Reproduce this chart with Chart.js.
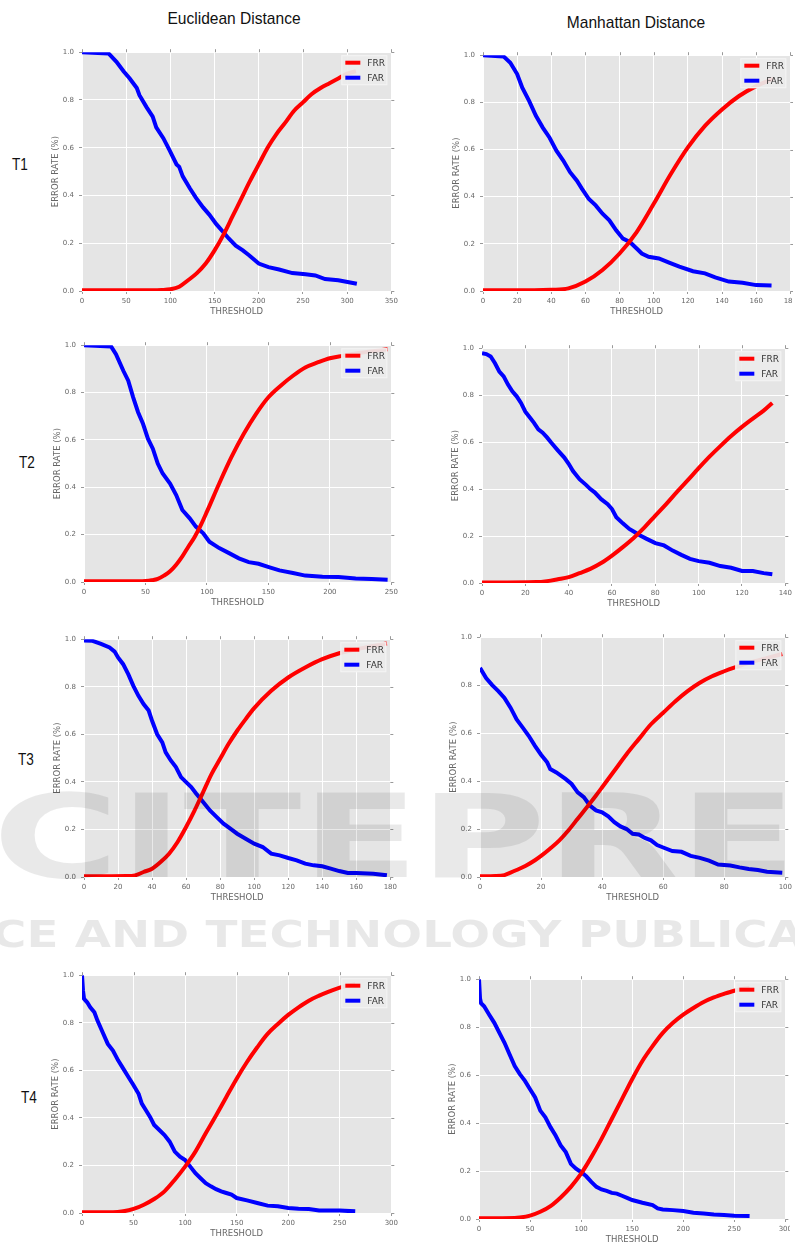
<!DOCTYPE html>
<html><head><meta charset="utf-8">
<script src="https://cdn.jsdelivr.net/npm/chart.js@4.4.1/dist/chart.umd.min.js"></script>
<style>
html,body{margin:0;padding:0;background:#fff;width:795px;height:1249px;overflow:hidden;position:relative;font-family:"Liberation Sans",Arial,sans-serif;}
.box{position:absolute;overflow:hidden;}
.box canvas{display:block;}
.lbl{position:absolute;color:#111;white-space:nowrap;line-height:1;}
.wm{position:absolute;white-space:nowrap;line-height:1;font-family:"DejaVu Sans";font-weight:bold;transform-origin:0 0;pointer-events:none;z-index:5;}
</style></head><body>
<div class="lbl" style="left:234px;top:18px;font-size:17px;transform:translate(-50%,-50%) scaleX(0.915);">Euclidean Distance</div>
<div class="lbl" style="left:636px;top:22px;font-size:17px;transform:translate(-50%,-50%) scaleX(0.915);">Manhattan Distance</div>
<div class="lbl" style="left:20px;top:164px;font-size:17px;transform:translate(-50%,-50%) scaleX(0.8);">T1</div>
<div class="lbl" style="left:27px;top:462px;font-size:17px;transform:translate(-50%,-50%) scaleX(0.8);">T2</div>
<div class="lbl" style="left:26px;top:759px;font-size:17px;transform:translate(-50%,-50%) scaleX(0.8);">T3</div>
<div class="lbl" style="left:29px;top:1097px;font-size:17px;transform:translate(-50%,-50%) scaleX(0.8);">T4</div>
<div id="wmBig" class="wm" style="left:-132px;top:779px;font-size:116px;color:rgba(0,0,0,0.085);">SCITEPRESS</div>
<div id="wmLine" class="wm" style="left:-8px;top:916px;font-size:37px;color:rgba(0,0,0,0.09);">CE AND TECHNOLOGY PUBLICA</div>
<script>
// ---- T1 Euclidean ----
const t1EucFarX = [0, 30, 39, 47, 54, 62, 65, 73, 80, 84, 92, 99, 107, 110, 114, 122, 129, 137, 144, 152, 159, 166, 174, 182, 189, 200, 211, 223, 238, 253, 264, 275, 290, 311];
const t1EucFar  = [1.0, 0.995, 0.96, 0.92, 0.89, 0.85, 0.82, 0.77, 0.73, 0.685, 0.64, 0.59, 0.53, 0.52, 0.48, 0.43, 0.39, 0.35, 0.32, 0.28, 0.25, 0.22, 0.19, 0.17, 0.15, 0.115, 0.10, 0.09, 0.075, 0.07, 0.065, 0.05, 0.045, 0.03];
const t1EucFrrX = [0, 80, 90, 100, 110, 120, 130, 140, 150, 160, 170, 180, 190, 200, 210, 220, 230, 240, 250, 260, 270, 280, 290, 300, 310];
const t1EucFrr  = [0.003, 0.003, 0.004, 0.007, 0.018, 0.045, 0.075, 0.115, 0.17, 0.235, 0.31, 0.385, 0.46, 0.53, 0.60, 0.657, 0.705, 0.755, 0.79, 0.825, 0.85, 0.87, 0.89, 0.91, 0.92];
// ---- T1 Manhattan ----
const t1ManFarX = [0, 12, 16, 20, 23, 27, 31, 35, 39, 43, 47, 51, 55, 58, 62, 66, 70, 74, 78, 82, 86, 90, 93, 97, 103, 109, 115, 123, 130, 136, 144, 152, 160, 169];
const t1ManFar  = [1.0, 0.995, 0.968, 0.92, 0.862, 0.806, 0.743, 0.693, 0.65, 0.595, 0.553, 0.504, 0.468, 0.433, 0.39, 0.363, 0.328, 0.30, 0.257, 0.222, 0.208, 0.18, 0.159, 0.145, 0.138, 0.12, 0.103, 0.084, 0.075, 0.058, 0.04, 0.035, 0.025, 0.023];
const t1ManFrrX = [0, 30, 40, 50, 60, 70, 80, 90, 100, 110, 120, 130, 140, 150, 160, 170];
const t1ManFrr  = [0.003, 0.003, 0.005, 0.011, 0.04, 0.089, 0.159, 0.25, 0.37, 0.496, 0.609, 0.70, 0.77, 0.827, 0.869, 0.90];
// ---- T2 Euclidean ----
const t2EucFarX = [0, 22, 26, 32, 36, 40, 44, 48, 52, 56, 60, 64, 70, 75, 80, 86, 91, 97, 102, 110, 118, 126, 134, 142, 151, 159, 170, 180, 194, 207, 221, 234, 247];
const t2EucFar  = [1.0, 0.995, 0.962, 0.892, 0.85, 0.78, 0.717, 0.668, 0.605, 0.563, 0.50, 0.458, 0.416, 0.367, 0.304, 0.269, 0.234, 0.206, 0.17, 0.143, 0.122, 0.10, 0.084, 0.077, 0.062, 0.049, 0.038, 0.027, 0.022, 0.021, 0.015, 0.013, 0.01];
const t2EucFrrX = [0, 45, 50, 55, 60, 65, 70, 75, 80, 85, 90, 95, 100, 110, 120, 130, 140, 150, 160, 170, 180, 190, 200, 210, 225, 247];
const t2EucFrr  = [0.003, 0.003, 0.004, 0.007, 0.013, 0.027, 0.045, 0.073, 0.108, 0.15, 0.19, 0.24, 0.297, 0.416, 0.528, 0.626, 0.71, 0.78, 0.829, 0.871, 0.906, 0.927, 0.945, 0.955, 0.968, 0.983];
// ---- T2 Manhattan ----
const t2ManFarX = [0,2,4,6,8,10,12,14,16,18,20,22,24,26,28,30,32,35,38,40,42,45,48,50,52,55,58,60,62,65,68,70,73,76,80,84,88,92,96,100,105,110,115,120,125,130,134];
const t2ManFar  = [0.979,0.975,0.965,0.936,0.90,0.88,0.845,0.816,0.795,0.767,0.73,0.706,0.682,0.654,0.64,0.62,0.597,0.565,0.534,0.508,0.477,0.442,0.418,0.40,0.386,0.357,0.336,0.315,0.28,0.254,0.23,0.219,0.202,0.188,0.17,0.16,0.138,0.12,0.103,0.093,0.086,0.072,0.065,0.051,0.051,0.042,0.037];
const t2ManFrrX = [0,25,30,35,40,45,50,55,60,65,70,75,80,85,90,95,100,105,110,115,120,125,130,134];
const t2ManFrr  = [0.002,0.004,0.008,0.016,0.025,0.042,0.06,0.085,0.117,0.153,0.192,0.237,0.287,0.336,0.388,0.438,0.489,0.538,0.583,0.626,0.665,0.70,0.734,0.767];
// ---- T3 Euclidean ----
const t3EucFarX = [0,5,10,15,18,20,23,26,29,32,35,38,40,43,46,48,51,54,57,60,63,66,70,74,78,82,86,90,95,100,105,110,115,120,125,130,135,140,145,150,155,160,170,178];
const t3EucFar  = [0.995,0.993,0.98,0.965,0.948,0.923,0.895,0.853,0.804,0.762,0.727,0.70,0.657,0.60,0.566,0.524,0.49,0.462,0.42,0.399,0.378,0.35,0.315,0.28,0.252,0.224,0.203,0.182,0.161,0.14,0.126,0.098,0.091,0.08,0.07,0.056,0.049,0.045,0.035,0.025,0.017,0.017,0.014,0.007];
const t3EucFrrX = [0,25,30,35,40,45,50,55,60,65,70,75,80,85,90,95,100,110,120,130,140,150,160,170,178];
const t3EucFrr  = [0.003,0.004,0.007,0.021,0.035,0.063,0.098,0.147,0.21,0.28,0.357,0.434,0.497,0.56,0.615,0.664,0.71,0.783,0.839,0.881,0.916,0.941,0.958,0.972,0.982];
// ---- T3 Manhattan ----
const t3ManFarX = [0,2,4,6,8,10,12,14,16,18,20,22,23,25,28,30,32,34,36,38,40,42,44,46,48,50,52,54,56,58,60,63,66,69,72,75,78,82,85,88,91,94,99];
const t3ManFar  = [0.872,0.83,0.80,0.775,0.747,0.706,0.657,0.623,0.588,0.547,0.51,0.478,0.45,0.436,0.409,0.388,0.353,0.333,0.298,0.278,0.27,0.253,0.229,0.211,0.20,0.18,0.177,0.163,0.153,0.133,0.123,0.108,0.105,0.088,0.08,0.068,0.052,0.048,0.04,0.033,0.029,0.022,0.018];
const t3ManFrrX = [0,5,8,10,12,15,18,20,23,26,29,32,35,38,40,44,48,52,56,60,64,68,72,76,80,83,90,99];
const t3ManFrr  = [0.003,0.004,0.008,0.018,0.029,0.047,0.07,0.088,0.119,0.153,0.195,0.243,0.291,0.34,0.374,0.443,0.512,0.575,0.637,0.685,0.733,0.775,0.81,0.837,0.858,0.872,0.90,0.93];
// ---- T4 Euclidean ----
const t4EucFarX = [0,1,2,5,8,12,15,20,25,30,35,40,45,50,55,58,62,66,70,75,80,85,90,95,100,105,110,115,120,125,130,135,140,145,150,160,170,180,190,200,210,220,230,240,250,265];
const t4EucFar  = [1.0,0.934,0.90,0.886,0.865,0.844,0.809,0.76,0.711,0.683,0.642,0.607,0.572,0.537,0.50,0.46,0.432,0.404,0.37,0.349,0.328,0.30,0.258,0.237,0.223,0.195,0.167,0.146,0.125,0.112,0.10,0.091,0.084,0.077,0.063,0.053,0.042,0.031,0.028,0.021,0.018,0.017,0.011,0.01,0.01,0.007];
const t4EucFrrX = [0,30,40,50,60,70,80,90,100,110,120,130,140,150,160,170,180,190,200,210,220,230,240,250,265];
const t4EucFrr  = [0.003,0.003,0.007,0.017,0.035,0.059,0.091,0.14,0.195,0.258,0.335,0.41,0.488,0.565,0.635,0.697,0.753,0.795,0.833,0.865,0.893,0.914,0.932,0.948,0.962];
// ---- T4 Manhattan ----
const t4ManFarX = [0,1,2,5,10,15,20,25,30,35,40,45,50,55,60,65,70,75,80,85,90,95,100,105,110,115,120,125,130,135,140,145,150,160,170,175,180,190,200,210,220,230,240,250,265];
const t4ManFar  = [1.0,0.92,0.90,0.887,0.852,0.818,0.776,0.735,0.686,0.638,0.604,0.576,0.541,0.507,0.452,0.424,0.383,0.348,0.307,0.279,0.23,0.21,0.196,0.178,0.155,0.134,0.123,0.117,0.109,0.106,0.097,0.088,0.079,0.068,0.058,0.044,0.04,0.037,0.033,0.026,0.023,0.019,0.017,0.014,0.012];
const t4ManFrrX = [0,35,40,50,60,70,80,90,100,110,120,130,140,150,160,170,180,190,200,210,220,230,240,250,265];
const t4ManFrr  = [0.003,0.004,0.006,0.014,0.03,0.054,0.09,0.134,0.189,0.258,0.334,0.417,0.50,0.583,0.659,0.721,0.776,0.818,0.852,0.88,0.905,0.924,0.939,0.952,0.965];

// axis settings per panel (x-axis maximum and tick step)
const xMaxes  = [350, 180, 250, 140, 180, 100, 300, 300];
const xSteps  = [50, 20, 50, 20, 20, 20, 50, 50];
const legendLabels = ['FRR', 'FAR'];
const xTitle = 'THRESHOLD';
const yTitle = 'ERROR RATE (%)';

// layout (positions only)
const rects = [
  {l:82, t:51, r:393, b:291, clip:795},
  {l:483, t:54, r:792, b:291, clip:793},
  {l:84, t:344, r:393, b:582, clip:795},
  {l:482, t:347, r:787, b:583, clip:795},
  {l:84, t:638, r:392, b:877, clip:795},
  {l:480, t:636, r:787, b:877, clip:794},
  {l:82, t:974, r:393, b:1213, clip:795},
  {l:479, t:978, r:787, b:1219, clip:790}
];
const panels = [
  [t1EucFrrX, t1EucFrr, t1EucFarX, t1EucFar],
  [t1ManFrrX, t1ManFrr, t1ManFarX, t1ManFar],
  [t2EucFrrX, t2EucFrr, t2EucFarX, t2EucFar],
  [t2ManFrrX, t2ManFrr, t2ManFarX, t2ManFar],
  [t3EucFrrX, t3EucFrr, t3EucFarX, t3EucFar],
  [t3ManFrrX, t3ManFrr, t3ManFarX, t3ManFar],
  [t4EucFrrX, t4EucFrr, t4EucFarX, t4EucFar],
  [t4ManFrrX, t4ManFrr, t4ManFarX, t4ManFar]
];

// stretch watermark texts horizontally to their spans
(function () {
  const big = document.getElementById('wmBig');
  const wb = big.getBoundingClientRect().width;
  big.style.transform = 'scaleX(' + (1170 / wb) + ')';
  const line = document.getElementById('wmLine');
  const wl = line.getBoundingClientRect().width;
  line.style.transform = 'scaleX(' + (812 / wl) + ')';
})();

const pts = (xs, ys) => xs.map((x, i) => ({x: x, y: ys[i]}));

const frame = {
  id: 'frame',
  beforeDraw(chart) {
    const a = chart.chartArea, ctx = chart.ctx;
    ctx.save();
    ctx.fillStyle = '#E5E5E5';
    ctx.fillRect(a.left, a.top, a.right - a.left, a.bottom - a.top);
    ctx.restore();
  },
  afterDatasetsDraw(chart) {
    const a = chart.chartArea, ctx = chart.ctx;
    ctx.save();
    const bw = 46, bh = 30;
    const bx = a.right - 4 - bw, by = a.top + 3;
    ctx.fillStyle = 'rgba(236,236,236,0.92)';
    ctx.fillRect(bx, by, bw, bh);
    ctx.strokeStyle = '#f4f4f4';
    ctx.lineWidth = 1;
    ctx.strokeRect(bx + 0.5, by + 0.5, bw - 1, bh - 1);
    chart.data.datasets.forEach((ds, i) => {
      const y = by + 7.5 + i * 15;
      ctx.strokeStyle = ds.borderColor;
      ctx.lineWidth = 4;
      ctx.beginPath(); ctx.moveTo(bx + 4, y); ctx.lineTo(bx + 19, y); ctx.stroke();
      ctx.fillStyle = '#333';
      ctx.font = '9px "DejaVu Sans"';
      ctx.textBaseline = 'middle';
      ctx.fillText(ds.label, bx + 26, y + 0.5);
    });
    ctx.restore();
  },
  afterDraw(chart) {
    const a = chart.chartArea, ctx = chart.ctx;
    const xs = chart.scales.x, ys = chart.scales.y;
    ctx.save();
    ctx.strokeStyle = '#999';
    ctx.lineWidth = 1;
    xs.ticks.forEach(t => {
      const px = Math.round(xs.getPixelForValue(t.value)) + 0.5;
      ctx.beginPath(); ctx.moveTo(px, a.top); ctx.lineTo(px, a.top - 3); ctx.stroke();
    });
    ys.ticks.forEach(t => {
      const py = Math.round(ys.getPixelForValue(t.value)) + 0.5;
      ctx.beginPath(); ctx.moveTo(a.right, py); ctx.lineTo(a.right + 3, py); ctx.stroke();
    });
    ctx.restore();
  }
};

const L = 34, T = 8, R = 8, B = 28;
panels.forEach((p, i) => {
  const rc = rects[i];
  const w = rc.r - rc.l + L + R;
  const h = rc.b - rc.t + T + B;
  const left = rc.l - L;
  const div = document.createElement('div');
  div.className = 'box';
  div.style.left = left + 'px';
  div.style.top = (rc.t - T) + 'px';
  div.style.width = Math.min(w, rc.clip - left) + 'px';
  div.style.height = h + 'px';
  const c = document.createElement('canvas');
  c.width = w; c.height = h;
  c.style.width = w + 'px'; c.style.height = h + 'px';
  div.appendChild(c);
  document.body.appendChild(div);
  new Chart(c, {
    type: 'line',
    data: {
      datasets: [
        {label: legendLabels[0], data: pts(p[0], p[1]), borderColor: '#ff0000', borderWidth: 4,
         pointRadius: 0, fill: false, cubicInterpolationMode: 'monotone', borderCapStyle: 'butt'},
        {label: legendLabels[1], data: pts(p[2], p[3]), borderColor: '#0000ff', borderWidth: 4,
         pointRadius: 0, fill: false, tension: 0, borderCapStyle: 'butt'}
      ]
    },
    options: {
      responsive: false,
      animation: false,
      devicePixelRatio: 1,
      layout: {padding: {top: T, right: R, left: 0, bottom: 0}},
      plugins: {legend: {display: false}, tooltip: {enabled: false}},
      scales: {
        x: {
          type: 'linear', min: 0, max: xMaxes[i],
          afterFit(s) { s.height = B; },
          border: {display: false},
          grid: {color: '#ffffff', lineWidth: 1, tickColor: '#999', tickLength: 3, drawTicks: true},
          ticks: {stepSize: xSteps[i], autoSkip: false, maxRotation: 0, padding: 3,
                  color: '#666', font: {family: 'DejaVu Sans', size: 7},
                  callback: v => String(v)},
          title: {display: true, text: xTitle, color: '#666', font: {family: 'DejaVu Sans', size: 8.5},
                  padding: {top: 0, bottom: 2}}
        },
        y: {
          type: 'linear', min: 0, max: 1,
          afterFit(s) { s.width = L; },
          border: {display: false},
          grid: {color: '#ffffff', lineWidth: 1, tickColor: '#999', tickLength: 3, drawTicks: true},
          ticks: {stepSize: 0.2, padding: 5, color: '#666', font: {family: 'DejaVu Sans', size: 7},
                  callback: v => v.toFixed(1)},
          title: {display: true, text: yTitle, color: '#666', font: {family: 'DejaVu Sans', size: 8.5},
                  padding: {top: 3, bottom: 0}}
        }
      }
    },
    plugins: [frame]
  });
});
</script>
</body></html>
